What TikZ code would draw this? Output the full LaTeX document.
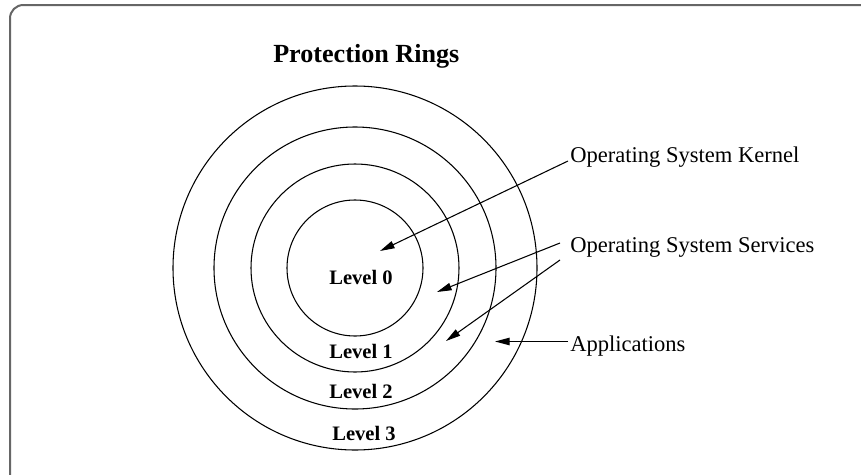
\documentclass[tikz,border=0pt]{standalone}
\usepackage{fontspec}
\setmainfont{Liberation Serif}
\usepackage{tikz}
\usetikzlibrary{arrows.meta}
\usetikzlibrary{calc}

\begin{document}
\begin{tikzpicture}[x=0.75pt,y=-0.75pt,
        ring/.style={draw=black, line width=0.8pt},
        lvl/.style={anchor=base, inner sep=0pt, font=\fontsize{15.4}{18}\selectfont\bfseries},
        lbl/.style={anchor=base west, inner sep=0pt, font=\fontsize{16.9}{20}\selectfont},
        ptr/.style={line width=0.8pt, -{Triangle[length=11pt,width=5.6pt]}},
        frame/.style={draw=black!60, line width=1.5pt, rounded corners=10pt}]
        \useasboundingbox (0,0) rectangle (861,475);
        \clip (0,0) rectangle (861,475);
        \draw[frame] (10,5) rectangle (880,495);

        \node[anchor=base west, inner sep=0pt, font=\fontsize{19.6}{23}\selectfont\bfseries] (title) at (273,62) {Protection Rings};

        % rings
        \coordinate (c) at (355,268);
        \foreach \r in {68,104,141,182}
            \draw[ring] (c) circle[radius=\r];

        \node[lvl] (l0) at (361,284) {Level 0};
        \node[lvl] (l1) at (361,358) {Level 1};
        \node[lvl] (l2) at (361,398) {Level 2};
        \node[lvl] (l3) at (364,440) {Level 3};

        % labels
        \node[lbl] (kernel) at (570,162) {Operating System Kernel};
        \node[lbl] (services) at (570,252) {Operating System Services};
        \node[lbl] (apps) at (570,351) {Applications};

        \coordinate (t0) at (380,251);
        \coordinate (t1) at (437,292);
        \coordinate (t2) at (446,341);
        \coordinate (t3) at (495,341.5);

        \draw[ptr] ($(kernel.base west)+(-2,-1)$) -- (t0);
        \draw[ptr] ($(services.base west)+(-10,-9)$) -- (t1);
        \draw[ptr] ($(services.base west)+(-10,8)$) -- (t2);
        \draw[ptr] ($(apps.base west)+(-2,-9.5)$) -- (t3);
    \end{tikzpicture}
\end{document}
